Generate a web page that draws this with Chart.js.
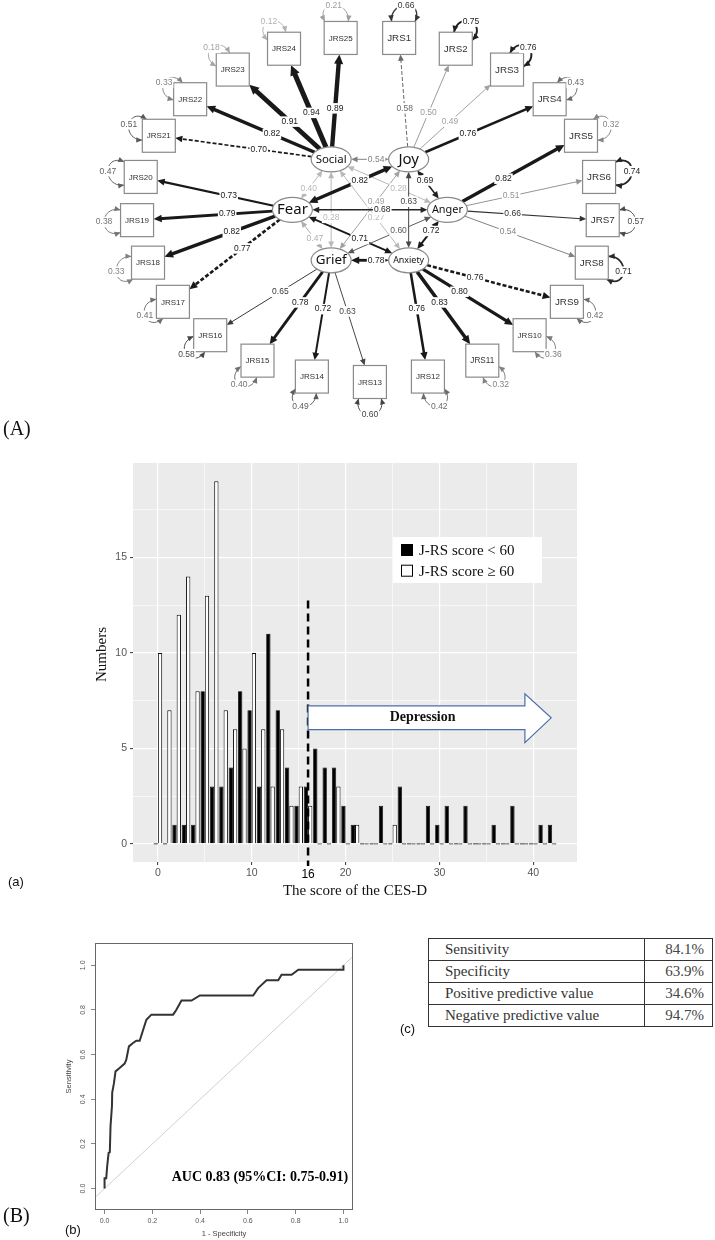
<!DOCTYPE html>
<html>
<head>
<meta charset="utf-8">
<script src="https://cdn.jsdelivr.net/npm/chart.js@4.4.1/dist/chart.umd.min.js"></script>
<style>
  html, body { margin: 0; padding: 0; background: #fff; }
  #page { position: relative; width: 715px; height: 1240px; overflow: hidden; background: #fff; }
  canvas { position: absolute; }
  .tag { position: absolute; white-space: nowrap; line-height: 1; color: #111; }
  .serif { font-family: "Liberation Serif", serif; font-size: 20px; }
  .sans { font-family: "Liberation Sans", Arial, sans-serif; font-size: 13px; }
  #metrics { position: absolute; left: 428px; top: 938px; border-collapse: collapse;
             font: 15px "Liberation Serif", serif; color: #333; }
  #metrics td { border: 1px solid #333; height: 21px; padding: 0; }
  #metrics td.name { width: 199px; padding-left: 16px; text-align: left; }
  #metrics td.val { width: 59px; padding-right: 8px; text-align: right; color: #444; }
</style>
</head>
<body>
<div id="page">
  <canvas id="sem" width="715" height="440" style="left:0;top:0;width:715px;height:440px"></canvas>
  <div class="tag serif" style="left:3px;top:418px">(A)</div>

  <canvas id="hist" width="715" height="470" style="left:0;top:440px;width:715px;height:470px"></canvas>
  <div class="tag sans" style="left:8px;top:875px">(a)</div>

  <canvas id="roc" width="400" height="340" style="left:0;top:900px;width:400px;height:340px"></canvas>
  <div class="tag serif" style="left:3px;top:1205px">(B)</div>
  <div class="tag sans" style="left:65px;top:1223px">(b)</div>

  <table id="metrics"></table>
  <div class="tag sans" style="left:400px;top:1022px">(c)</div>
</div>

<script>
// ---------- (A) path diagram: model estimates ----------
var factorNames = ['Anger', 'Anxiety', 'Grief', 'Fear', 'Social', 'Joy'];
var itemNames = ['JRS1', 'JRS2', 'JRS3', 'JRS4', 'JRS5', 'JRS6', 'JRS7', 'JRS8', 'JRS9', 'JRS10',
                 'JRS11', 'JRS12', 'JRS13', 'JRS14', 'JRS15', 'JRS16', 'JRS17', 'JRS18', 'JRS19',
                 'JRS20', 'JRS21', 'JRS22', 'JRS23', 'JRS24', 'JRS25'];
var itemFactor = ['Joy', 'Joy', 'Joy', 'Joy', 'Anger', 'Anger', 'Anger', 'Anger',
                  'Anxiety', 'Anxiety', 'Anxiety', 'Anxiety', 'Grief', 'Grief', 'Grief', 'Grief',
                  'Fear', 'Fear', 'Fear', 'Fear', 'Social', 'Social', 'Social', 'Social', 'Social'];
var loadings = [0.58, 0.50, 0.49, 0.76, 0.82, 0.51, 0.66, 0.54, 0.76, 0.80, 0.83, 0.76,
                0.63, 0.72, 0.78, 0.65, 0.77, 0.82, 0.79, 0.73, 0.70, 0.82, 0.91, 0.94, 0.89];
var residualVar = [0.66, 0.75, 0.76, 0.43, 0.32, 0.74, 0.57, 0.71, 0.42, 0.36, 0.32, 0.42,
                   0.60, 0.49, 0.40, 0.58, 0.41, 0.33, 0.38, 0.47, 0.51, 0.33, 0.18, 0.12, 0.21];
var fixedItems = ['JRS1', 'JRS9', 'JRS17', 'JRS21'];
var corrFrom = ['Joy', 'Fear', 'Anger', 'Grief', 'Anxiety', 'Joy', 'Joy', 'Joy', 'Joy',
                'Anger', 'Grief', 'Anxiety', 'Anger', 'Anger', 'Anxiety'];
var corrTo = ['Social', 'Social', 'Social', 'Social', 'Social', 'Fear', 'Anger', 'Grief', 'Anxiety',
              'Fear', 'Fear', 'Fear', 'Grief', 'Anxiety', 'Grief'];
var corrValues = [0.54, 0.40, 0.28, 0.28, 0.27, 0.82, 0.69, 0.49, 0.63, 0.68, 0.47, 0.71, 0.60, 0.72, 0.78];

// ---------- (a) histogram of CES-D scores ----------
var cesdScores = [0, 1, 2, 3, 4, 5, 6, 7, 8, 9, 10, 11, 12, 13, 14, 15, 16, 17, 18, 19, 20, 21,
                  22, 23, 24, 25, 26, 27, 28, 29, 30, 31, 32, 33, 34, 35, 36, 37, 38, 39, 40, 41, 42];
var lowJrsCounts = [0, 0, 1, 1, 1, 8, 3, 3, 4, 8, 7, 3, 11, 7, 4, 2, 3, 5, 4, 4, 2, 1,
                    0, 0, 2, 0, 3, 0, 0, 2, 1, 2, 0, 2, 0, 0, 1, 0, 2, 0, 0, 1, 1];
var highJrsCounts = [10, 7, 12, 14, 8, 13, 19, 7, 6, 5, 10, 6, 3, 6, 2, 3, 2, 0, 0, 3, 0, 1,
                     0, 0, 0, 1, 0, 0, 0, 0, 0, 0, 0, 0, 0, 0, 0, 0, 0, 0, 0, 0, 0];
var histSeries = ['J-RS score < 60', 'J-RS score \u2265 60'];
var yTickValues = [0, 5, 10, 15];
var yGridValues = [0, 2.5, 5, 7.5, 10, 12.5, 15, 17.5];
var xTickValues = [0, 10, 16, 20, 30, 40];
var xGridValues = [0, 5, 10, 15, 16, 20, 25, 30, 35, 40];
var cutoff = 16;

// ---------- (b) ROC curve ----------
var rocFpr = [0, 0, 0.007, 0.011, 0.017, 0.022, 0.025, 0.031, 0.032, 0.039, 0.046, 0.063, 0.084,
              0.091, 0.102, 0.119, 0.133, 0.147, 0.175, 0.196, 0.287, 0.300, 0.322, 0.364, 0.399,
              0.622, 0.643, 0.678, 0.727, 0.741, 0.783, 0.811, 1.0, 1.0];
var rocTpr = [0, 0.046, 0.046, 0.10, 0.16, 0.163, 0.28, 0.37, 0.43, 0.47, 0.525, 0.54, 0.56,
              0.577, 0.637, 0.652, 0.662, 0.662, 0.756, 0.779, 0.779, 0.80, 0.842, 0.842, 0.865,
              0.865, 0.898, 0.933, 0.933, 0.958, 0.958, 0.98, 0.98, 1.0];
var rocTicks = [0, 0.2, 0.4, 0.6, 0.8, 1.0];
var aucText = 'AUC 0.83 (95%CI: 0.75-0.91)';

// ---------- (c) diagnostic table ----------
var metricNames = ['Sensitivity', 'Specificity', 'Positive predictive value', 'Negative predictive value'];
var metricValues = ['84.1%', '63.9%', '34.6%', '94.7%'];

// ================= layout / drawing =================
var DEG = Math.PI / 180;
var ITEM_RING = { cx: 369.9, cy: 209.3, rx: 233.3, ry: 172.7, step: 14.4, half: 16.5 };
var FACTOR_RING = { cx: 369.9, cy: 209.8, rx: 77.5, ry: 58.3, step: 60, erx: 20, ery: 12.5 };
var LABEL_T = 0.42;

function edgeGray(v) {
  var g = v >= 0.7 ? 25 : Math.min(185, Math.round(25 + (0.7 - v) * 650));
  return 'rgb(' + g + ',' + g + ',' + g + ')';
}
function edgeWidth(v) { return 1 + Math.max(0, v - 0.65) * 14; }
function loopGray(v) {
  var g = Math.round(Math.max(30, Math.min(190, 205 - v * 230)));
  return 'rgb(' + g + ',' + g + ',' + g + ')';
}
function loopWidth(v) { return 1 + Math.max(0, v - 0.6) * 6; }

function boundary(node, dx, dy) {
  var len = Math.hypot(dx, dy) || 1, ux = dx / len, uy = dy / len, t;
  if (node.shape === 'ellipse') t = 1 / Math.sqrt(Math.pow(ux / node.rx, 2) + Math.pow(uy / node.ry, 2));
  else t = node.h / Math.max(Math.abs(ux), Math.abs(uy));
  return { x: node.x + ux * t, y: node.y + uy * t };
}

function arrowHead(ctx, tip, dx, dy, lw, color) {
  var n = Math.hypot(dx, dy) || 1, ux = dx / n, uy = dy / n;
  var len = 5.5 + lw * 0.9, hw = 2.4 + lw * 0.5;
  ctx.beginPath();
  ctx.moveTo(tip.x, tip.y);
  ctx.lineTo(tip.x - ux * len - uy * hw, tip.y - uy * len + ux * hw);
  ctx.lineTo(tip.x - ux * len + uy * hw, tip.y - uy * len - ux * hw);
  ctx.closePath();
  ctx.fillStyle = color;
  ctx.fill();
}

function drawEdge(ctx, a, b, color, lw, both, dashed) {
  var p1 = boundary(a, b.x - a.x, b.y - a.y);
  var p2 = boundary(b, a.x - b.x, a.y - b.y);
  var dx = p2.x - p1.x, dy = p2.y - p1.y, L = Math.hypot(dx, dy), ux = dx / L, uy = dy / L;
  var head = (5.5 + lw * 0.9) * 0.7;
  var s = both ? { x: p1.x + ux * head, y: p1.y + uy * head } : p1;
  ctx.save();
  ctx.strokeStyle = color;
  ctx.lineWidth = lw;
  if (dashed) ctx.setLineDash([4, 2]);
  ctx.beginPath();
  ctx.moveTo(s.x, s.y);
  ctx.lineTo(p2.x - ux * head, p2.y - uy * head);
  ctx.stroke();
  ctx.restore();
  arrowHead(ctx, p2, ux, uy, lw, color);
  if (both) arrowHead(ctx, p1, -ux, -uy, lw, color);
}

function boxedText(ctx, text, x, y, color, size) {
  ctx.font = size + 'px "Liberation Sans", Arial, sans-serif';
  var w = ctx.measureText(text).width;
  ctx.fillStyle = '#fff';
  ctx.fillRect(x - w / 2 - 1, y - size / 2 - 1, w + 2, size + 2);
  ctx.fillStyle = color;
  ctx.textAlign = 'center';
  ctx.textBaseline = 'middle';
  ctx.fillText(text, x, y);
}

var factorPts = factorNames.map(function (n, i) {
  var a = i * FACTOR_RING.step * DEG;
  return { x: FACTOR_RING.cx + FACTOR_RING.rx * Math.cos(a), y: FACTOR_RING.cy + FACTOR_RING.ry * Math.sin(a) };
});
var itemPts = itemNames.map(function (n, i) {
  var a = (90 - (12 - i) * ITEM_RING.step) * DEG;
  return { x: ITEM_RING.cx + ITEM_RING.rx * Math.cos(a), y: ITEM_RING.cy + ITEM_RING.ry * Math.sin(a) };
});

var semPlugin = {
  id: 'semPaths',
  afterDatasetsDraw: function (chart) {
    var ctx = chart.ctx;
    var fEl = chart.getDatasetMeta(0).data, iEl = chart.getDatasetMeta(1).data;
    var fNode = {};
    factorNames.forEach(function (n, i) {
      fNode[n] = { x: fEl[i].x, y: fEl[i].y, shape: 'ellipse', rx: FACTOR_RING.erx, ry: FACTOR_RING.ery };
    });
    var iNode = itemNames.map(function (n, i) {
      return { x: iEl[i].x, y: iEl[i].y, shape: 'box', h: ITEM_RING.half };
    });
    var labels = [];

    // loadings
    itemNames.forEach(function (n, i) {
      var f = fNode[itemFactor[i]], it = iNode[i], v = loadings[i];
      var col = edgeGray(v);
      drawEdge(ctx, f, it, col, edgeWidth(v), false, fixedItems.indexOf(n) >= 0);
      labels.push({ x: f.x + (it.x - f.x) * LABEL_T, y: f.y + (it.y - f.y) * LABEL_T, t: v.toFixed(2), c: col });
    });

    // factor correlations
    corrValues.forEach(function (v, k) {
      var a = fNode[corrFrom[k]], b = fNode[corrTo[k]];
      var col = edgeGray(v);
      drawEdge(ctx, a, b, col, edgeWidth(v), true, false);
      labels.push({ x: a.x + (b.x - a.x) * LABEL_T, y: a.y + (b.y - a.y) * LABEL_T, t: v.toFixed(2), c: col });
    });

    // residual variance loops
    itemNames.forEach(function (n, i) {
      var it = iNode[i], v = residualVar[i], col = loopGray(v), lw = loopWidth(v);
      var ux = it.x - chart.scales.x.getPixelForValue(ITEM_RING.cx);
      var uy = it.y - chart.scales.y.getPixelForValue(ITEM_RING.cy);
      var L = Math.hypot(ux, uy); ux /= L; uy /= L;
      function rot(a) { return { x: ux * Math.cos(a) - uy * Math.sin(a), y: ux * Math.sin(a) + uy * Math.cos(a) }; }
      var d1 = rot(0.6), d2 = rot(-0.6);
      var s1 = boundary(it, d1.x, d1.y), s2 = boundary(it, d2.x, d2.y);
      var wx = s1.x - s2.x, wy = s1.y - s2.y, wl = Math.hypot(wx, wy) || 1;
      wx /= wl; wy /= wl;
      var k = 22, sp = 6;
      var c1 = { x: s1.x + ux * k + wx * sp, y: s1.y + uy * k + wy * sp };
      var c2 = { x: s2.x + ux * k - wx * sp, y: s2.y + uy * k - wy * sp };
      ctx.save();
      ctx.strokeStyle = col;
      ctx.lineWidth = lw;
      ctx.beginPath();
      ctx.moveTo(s1.x, s1.y);
      ctx.bezierCurveTo(c1.x, c1.y, c2.x, c2.y, s2.x, s2.y);
      ctx.stroke();
      ctx.restore();
      arrowHead(ctx, s1, s1.x - c1.x, s1.y - c1.y, lw * 0.6, col);
      arrowHead(ctx, s2, s2.x - c2.x, s2.y - c2.y, lw * 0.6, col);
      labels.push({
        x: 0.125 * (s1.x + s2.x) + 0.375 * (c1.x + c2.x),
        y: 0.125 * (s1.y + s2.y) + 0.375 * (c1.y + c2.y),
        t: v.toFixed(2), c: col
      });
    });

    // nodes
    ctx.save();
    ctx.lineWidth = 1.2;
    ctx.strokeStyle = '#8a8a8a';
    iNode.forEach(function (it, i) {
      ctx.fillStyle = '#fff';
      ctx.fillRect(it.x - it.h, it.y - it.h, it.h * 2, it.h * 2);
      ctx.strokeRect(it.x - it.h, it.y - it.h, it.h * 2, it.h * 2);
      var fs = 10;
      ctx.font = fs + 'px "Liberation Sans", Arial, sans-serif';
      var w = ctx.measureText(itemNames[i]).width;
      if (w > 24) fs = fs * 24 / w;
      ctx.font = fs + 'px "Liberation Sans", Arial, sans-serif';
      ctx.fillStyle = '#333';
      ctx.textAlign = 'center';
      ctx.textBaseline = 'middle';
      ctx.fillText(itemNames[i], it.x, it.y + 0.5);
    });
    factorNames.forEach(function (n) {
      var f = fNode[n];
      ctx.beginPath();
      ctx.ellipse(f.x, f.y, f.rx, f.ry, 0, 0, Math.PI * 2);
      ctx.fillStyle = '#fff';
      ctx.fill();
      ctx.stroke();
      var fs = 15;
      ctx.font = fs + 'px "Noto Sans", sans-serif';
      var w = ctx.measureText(n).width;
      if (w > 31) fs = fs * 31 / w;
      ctx.font = fs + 'px "Noto Sans", sans-serif';
      ctx.fillStyle = '#111';
      ctx.textAlign = 'center';
      ctx.textBaseline = 'middle';
      ctx.fillText(n, f.x, f.y);
    });
    ctx.restore();

    labels.forEach(function (l) { boxedText(ctx, l.t, l.x, l.y, l.c, 8.5); });
  }
};

new Chart(document.getElementById('sem'), {
  type: 'scatter',
  data: {
    datasets: [
      { label: 'factors', data: factorPts, pointRadius: 0 },
      { label: 'items', data: itemPts, pointRadius: 0 }
    ]
  },
  options: {
    responsive: false,
    animation: false,
    layout: { padding: 0 },
    plugins: { legend: { display: false }, tooltip: { enabled: false } },
    scales: {
      x: { type: 'linear', min: 0, max: 715, display: false },
      y: { type: 'linear', min: 0, max: 440, reverse: true, display: false }
    }
  },
  plugins: [semPlugin]
});

// ---------- histogram ----------
var histDecor = {
  id: 'histDecor',
  beforeDraw: function (chart) {
    var a = chart.chartArea, ctx = chart.ctx;
    ctx.save();
    ctx.fillStyle = '#ebebeb';
    ctx.fillRect(a.left, a.top, a.right - a.left, a.bottom - a.top);
    ctx.restore();
  },
  afterDatasetsDraw: function (chart) {
    var ctx = chart.ctx, xs = chart.scales.x, ys = chart.scales.y, a = chart.chartArea;
    ctx.save();
    // cut-off line
    ctx.setLineDash([8, 5]);
    ctx.lineWidth = 2.5;
    ctx.strokeStyle = '#000';
    ctx.beginPath();
    ctx.moveTo(xs.getPixelForValue(cutoff), ys.getPixelForValue(12.75));
    ctx.lineTo(xs.getPixelForValue(cutoff), a.bottom + 4);
    ctx.stroke();
    ctx.setLineDash([]);

    // block arrow "Depression"
    var X = function (v) { return xs.getPixelForValue(v); }, Y = function (v) { return ys.getPixelForValue(v); };
    ctx.beginPath();
    ctx.moveTo(X(cutoff), Y(7.23));
    ctx.lineTo(X(39.1), Y(7.23));
    ctx.lineTo(X(39.1), Y(7.86));
    ctx.lineTo(X(41.9), Y(6.6));
    ctx.lineTo(X(39.1), Y(5.3));
    ctx.lineTo(X(39.1), Y(5.98));
    ctx.lineTo(X(cutoff), Y(5.98));
    ctx.closePath();
    ctx.fillStyle = '#fff';
    ctx.fill();
    ctx.lineWidth = 1.2;
    ctx.strokeStyle = '#4a6ea9';
    ctx.stroke();
    ctx.fillStyle = '#111';
    ctx.font = 'bold 14px "Liberation Serif", serif';
    ctx.textAlign = 'center';
    ctx.textBaseline = 'middle';
    ctx.fillText('Depression', X(28.2), Y(6.6));

    // legend
    var lx = a.left + 260, ly = a.top + 74;
    ctx.fillStyle = '#fff';
    ctx.fillRect(lx, ly, 149, 46);
    chart.data.datasets.forEach(function (ds, i) {
      var cy = ly + 13 + i * 20.7;
      ctx.fillStyle = i === 0 ? '#000' : '#fff';
      ctx.fillRect(lx + 8, cy - 6, 12, 12);
      ctx.lineWidth = 1;
      ctx.strokeStyle = '#000';
      ctx.strokeRect(lx + 8.5, cy - 5.5, 11, 11);
      ctx.fillStyle = '#111';
      ctx.font = '15px "Liberation Serif", serif';
      ctx.textAlign = 'left';
      ctx.textBaseline = 'middle';
      ctx.fillText(ds.label, lx + 26, cy + 1);
    });

    // axis titles
    ctx.fillStyle = '#111';
    ctx.font = '15px "Liberation Serif", serif';
    ctx.textAlign = 'center';
    ctx.textBaseline = 'middle';
    ctx.fillText('The score of the CES-D', (a.left + a.right) / 2, a.bottom + 29);
    ctx.translate(a.left - 31, (a.top + a.bottom) / 2 - 8);
    ctx.rotate(-Math.PI / 2);
    ctx.fillText('Numbers', 0, 0);
    ctx.restore();
  }
};

var clear = 'rgba(0,0,0,0)';
new Chart(document.getElementById('hist'), {
  type: 'bar',
  data: {
    datasets: [
      {
        label: histSeries[0],
        data: cesdScores.map(function (s, i) { return { x: s, y: lowJrsCounts[i] }; }),
        backgroundColor: '#000', borderColor: '#000', borderWidth: 0.8, minBarLength: 1.2
      },
      {
        label: histSeries[1],
        data: cesdScores.map(function (s, i) { return { x: s, y: highJrsCounts[i] }; }),
        backgroundColor: function (c) { return c.raw && c.raw.y === 0 ? '#444' : '#fff'; },
        borderColor: '#111', borderWidth: 1, minBarLength: 1.2
      }
    ]
  },
  options: {
    responsive: false,
    animation: false,
    layout: { padding: { left: 0, top: 23, right: 138, bottom: 0 } },
    datasets: { bar: { categoryPercentage: 0.92, barPercentage: 1.0 } },
    plugins: { legend: { display: false }, tooltip: { enabled: false } },
    scales: {
      x: {
        type: 'linear', min: -2.65, max: 44.65, offset: false,
        afterBuildTicks: function (s) { s.ticks = xGridValues.map(function (v) { return { value: v }; }); },
        afterFit: function (s) { s.height = 48; },
        border: { display: false },
        grid: {
          offset: false,
          color: function (c) { return c.tick && c.tick.value === cutoff ? clear : '#fff'; },
          lineWidth: function (c) { return c.tick && c.tick.value % 10 === 0 ? 1.2 : 0.6; },
          tickColor: function (c) { return c.tick && xTickValues.indexOf(c.tick.value) >= 0 ? '#333' : clear; },
          tickLength: 3, tickWidth: 1
        },
        ticks: {
          autoSkip: false, maxRotation: 0, padding: 2,
          callback: function (v) { return xTickValues.indexOf(v) >= 0 ? String(v) : ''; },
          color: function (c) { return c.tick && c.tick.value === cutoff ? '#000' : '#555'; },
          font: function (c) {
            return { family: 'Liberation Sans', size: c.tick && c.tick.value === cutoff ? 12 : 10.5 };
          }
        }
      },
      y: {
        min: -0.95, max: 19.95,
        afterBuildTicks: function (s) { s.ticks = yGridValues.map(function (v) { return { value: v }; }); },
        afterFit: function (s) { s.width = 133; },
        border: { display: false },
        grid: {
          color: '#fff',
          lineWidth: function (c) { return c.tick && yTickValues.indexOf(c.tick.value) >= 0 ? 1.2 : 0.6; },
          tickColor: function (c) { return c.tick && yTickValues.indexOf(c.tick.value) >= 0 ? '#333' : clear; },
          tickLength: 3, tickWidth: 1
        },
        ticks: {
          padding: 3, color: '#555',
          font: { family: 'Liberation Sans', size: 10.5 },
          callback: function (v) { return yTickValues.indexOf(v) >= 0 ? String(v) : ''; }
        }
      }
    }
  },
  plugins: [histDecor]
});

// ---------- ROC ----------
var rocDecor = {
  id: 'rocDecor',
  afterDraw: function (chart) {
    var ctx = chart.ctx, a = chart.chartArea, xs = chart.scales.x, ys = chart.scales.y;
    ctx.save();
    ctx.strokeStyle = '#666';
    ctx.lineWidth = 1;
    ctx.strokeRect(a.left + 0.5, a.top + 0.5, a.right - a.left - 1, a.bottom - a.top - 1);
    ctx.fillStyle = '#000';
    ctx.font = 'bold 14px "Liberation Serif", serif';
    ctx.textAlign = 'right';
    ctx.textBaseline = 'middle';
    ctx.fillText(aucText, xs.getPixelForValue(1.02), ys.getPixelForValue(0.052));
    ctx.fillStyle = '#444';
    ctx.font = '7.5px "Liberation Sans", Arial, sans-serif';
    ctx.textAlign = 'center';
    ctx.fillText('1 - Specificity', (a.left + a.right) / 2, a.bottom + 24);
    ctx.translate(a.left - 26, (a.top + a.bottom) / 2);
    ctx.rotate(-Math.PI / 2);
    ctx.fillText('Sensitivity', 0, 0);
    ctx.restore();
  }
};

new Chart(document.getElementById('roc'), {
  type: 'scatter',
  data: {
    datasets: [
      {
        label: 'ROC',
        data: rocFpr.map(function (f, i) { return { x: f, y: rocTpr[i] }; }),
        showLine: true, borderColor: '#333', borderWidth: 2, pointRadius: 0
      },
      {
        label: 'chance',
        data: [{ x: -0.04, y: -0.04 }, { x: 1.04, y: 1.04 }],
        showLine: true, borderColor: '#d0d0d0', borderWidth: 1, pointRadius: 0
      }
    ]
  },
  options: {
    responsive: false,
    animation: false,
    layout: { padding: { left: 0, top: 43, right: 47, bottom: 0 } },
    plugins: { legend: { display: false }, tooltip: { enabled: false } },
    scales: {
      x: {
        type: 'linear', min: -0.04, max: 1.04,
        afterBuildTicks: function (s) { s.ticks = rocTicks.map(function (v) { return { value: v }; }); },
        afterFit: function (s) { s.height = 30; },
        border: { display: false },
        grid: { drawOnChartArea: false, tickLength: 4, tickColor: '#666', tickWidth: 0.8 },
        ticks: {
          autoSkip: false, maxRotation: 0, padding: 3, color: '#555',
          font: { family: 'Liberation Sans', size: 7 },
          callback: function (v) { return v.toFixed(1); }
        }
      },
      y: {
        type: 'linear', min: -0.096, max: 1.10,
        afterBuildTicks: function (s) { s.ticks = rocTicks.map(function (v) { return { value: v }; }); },
        afterFit: function (s) { s.width = 95; },
        border: { display: false },
        grid: { drawOnChartArea: false, tickLength: 4, tickColor: '#666', tickWidth: 0.8 },
        ticks: {
          autoSkip: false, minRotation: 90, maxRotation: 90, crossAlign: 'center', padding: 3, color: '#555',
          font: { family: 'Liberation Sans', size: 7 },
          callback: function (v) { return v.toFixed(1); }
        }
      }
    }
  },
  plugins: [rocDecor]
});

// ---------- table ----------
var table = document.getElementById('metrics');
metricNames.forEach(function (name, i) {
  var tr = document.createElement('tr');
  var td1 = document.createElement('td');
  td1.className = 'name';
  td1.textContent = name;
  var td2 = document.createElement('td');
  td2.className = 'val';
  td2.textContent = metricValues[i];
  tr.appendChild(td1);
  tr.appendChild(td2);
  table.appendChild(tr);
});
</script>
</body>
</html>
